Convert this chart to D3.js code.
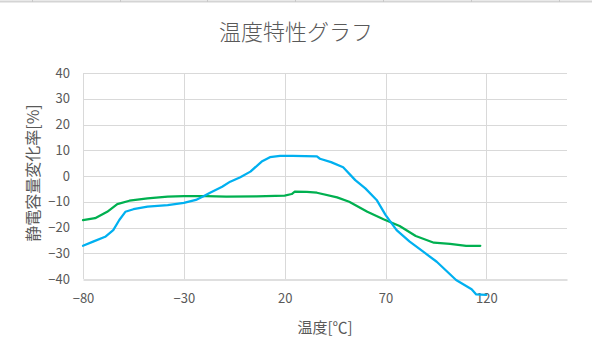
<!DOCTYPE html>
<html>
<head>
<meta charset="utf-8">
<script src="https://cdn.jsdelivr.net/npm/d3@7"></script>
<style>
  html, body { margin: 0; padding: 0; background: #fff; }
  svg { display: block; }
  text { font-family: "Noto Sans CJK JP", "Noto Sans", sans-serif; fill: #595959; }
</style>
</head>
<body>
<svg id="chart" width="592" height="360"></svg>
<script>
const title = "温度特性グラフ";
const xTitle = "温度[℃]";
const yTitle = "静電容量変化率[%]";
const xTicks = [-80, -30, 20, 70, 120];
const yTicks = [-40, -30, -20, -10, 0, 10, 20, 30, 40];

const blueTemps = [-80,-75,-69,-65,-62,-59,-55,-48,-38,-30,-24,-20,-17,-11,-7,-2,3,8.6,12.7,17.7,24,30,36,37.5,43,49,55,60,65.6,70,75.5,82,88.7,95.4,105,112.7,115,120];
const blueValues = [-27.1,-25.5,-23.6,-21,-17.1,-13.9,-12.9,-11.9,-11.3,-10.4,-9.3,-7.8,-6.5,-4.2,-2.2,-0.5,1.7,5.6,7.3,7.8,7.8,7.7,7.6,6.7,5.4,3.4,-1.6,-4.8,-9.3,-15.1,-21,-25.5,-29.4,-33.3,-40.4,-44,-46,-46.2];

const greenTemps = [-80,-74,-68,-63,-57,-48,-38,-30,-19,-9,6,20,23.5,25,31,36,46,52,61,69,77,85,94,102,110,117];
const greenValues = [-17.1,-16.4,-13.9,-10.9,-9.6,-8.7,-8,-7.8,-7.8,-8,-7.9,-7.6,-7,-6.1,-6.2,-6.5,-8.3,-10,-13.9,-16.8,-19.4,-23.3,-25.9,-26.4,-27.1,-27.1];

const svg = d3.select("#chart");
const W = 592, H = 360;
const m = { left: 83, right: 25, top: 73, bottom: 81 };

const x = d3.scaleLinear().domain([-80, 160]).range([m.left, W - m.right]);
const y = d3.scaleLinear().domain([-40, 40]).range([H - m.bottom, m.top]);

// spreadsheet top border line
const topLine = svg.append("g");
topLine.append("line").attr("x1", 0).attr("x2", W).attr("y1", 1.5).attr("y2", 1.5)
  .attr("stroke", "#d4d4d4").attr("stroke-width", 2);
[32, 120, 207, 295, 383, 471, 559].forEach(px => {
  topLine.append("line").attr("x1", px + 0.5).attr("x2", px + 0.5).attr("y1", 0).attr("y2", 2)
    .attr("stroke", "#c8c8c8");
});

// gridlines
const grid = svg.append("g");
grid.selectAll("line.h").data(yTicks.filter(d => d !== -40)).join("line")
  .attr("x1", x.range()[0]).attr("x2", x.range()[1])
  .attr("y1", d => Math.round(y(d)) + 0.5).attr("y2", d => Math.round(y(d)) + 0.5)
  .attr("stroke", "#d9d9d9").attr("stroke-width", 1);
grid.selectAll("line.v").data(xTicks).join("line")
  .attr("y1", y.range()[1]).attr("y2", y.range()[0])
  .attr("x1", d => Math.round(x(d)) + 0.5).attr("x2", d => Math.round(x(d)) + 0.5)
  .attr("stroke", "#d9d9d9").attr("stroke-width", 1);

// x axis
const xAxis = d3.axisBottom(x).tickValues(xTicks).tickSize(0).tickPadding(14);
const gx = svg.append("g").attr("transform", `translate(0,${Math.round(y(-40)) + 0.5})`).call(xAxis);
gx.select(".domain").attr("stroke", "#bfbfbf");
gx.selectAll("text").style("font-size", "13px").attr("fill", "#595959");

// y axis
const yAxis = d3.axisLeft(y).tickValues(yTicks).tickSize(0).tickPadding(13);
const gy = svg.append("g").attr("transform", `translate(${m.left},0)`).call(yAxis);
gy.select(".domain").remove();
gy.selectAll("text").style("font-size", "13px").attr("fill", "#595959");

// lines
const line = d3.line().x(d => x(d[0])).y(d => y(d[1]));
svg.append("path").datum(greenTemps.map((t, i) => [t, greenValues[i]]))
  .attr("d", line).attr("fill", "none").attr("stroke", "#00B050").attr("stroke-width", 2.25)
  .attr("stroke-linejoin", "round").attr("stroke-linecap", "round");
svg.append("path").datum(blueTemps.map((t, i) => [t, blueValues[i]]))
  .attr("d", line).attr("fill", "none").attr("stroke", "#00B0F0").attr("stroke-width", 2.25)
  .attr("stroke-linejoin", "round").attr("stroke-linecap", "round");

// titles
svg.append("text").attr("x", 296).attr("y", 40).attr("text-anchor", "middle")
  .style("font-size", "22px").style("font-weight", 300).text(title);
svg.append("text").attr("x", (x.range()[0] + x.range()[1]) / 2).attr("y", 333).attr("text-anchor", "middle")
  .style("font-size", "15px").text(xTitle);
svg.append("text").attr("transform", `translate(39,173) rotate(-90)`).attr("text-anchor", "middle")
  .style("font-size", "16px").text(yTitle);
</script>
</body>
</html>
